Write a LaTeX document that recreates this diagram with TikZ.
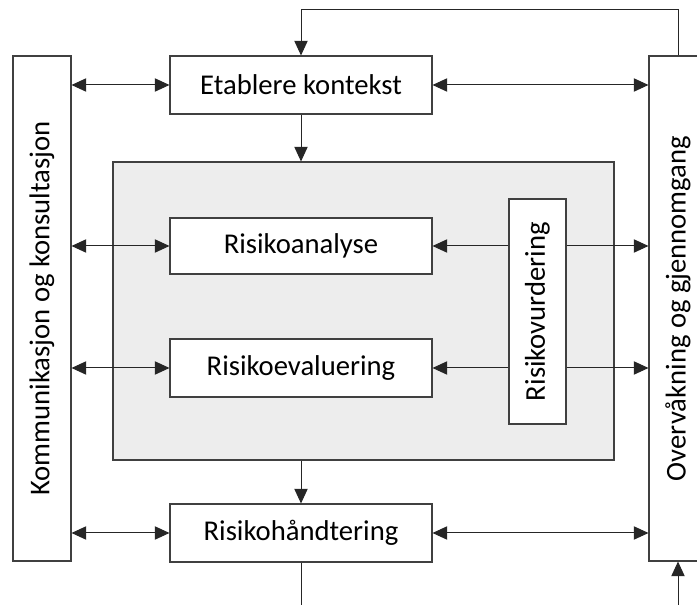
\documentclass[tikz,border=0pt]{standalone}
\usepackage{fontspec}
\setmainfont{Carlito}
\usepackage{graphicx}
\usetikzlibrary{arrows.meta}

\begin{document}
\begin{tikzpicture}[x=0.75pt,y=-0.75pt,
        box/.style={draw=black!75,line width=0.8pt,fill=white,inner sep=0pt,
            font=\fontsize{21.5}{25}\selectfont},
        arr/.style={draw=black!85,line width=0.75pt,-{Triangle[length=11pt,width=10pt]}},
        biarr/.style={arr,{Triangle[length=11pt,width=10pt]}-{Triangle[length=11pt,width=10pt]}}]
    \useasboundingbox (0,0) rectangle (697,605);
    \clip (0,0) rectangle (697,605);
    % side boxes
    \node[box,minimum width=43.5pt,minimum height=378.75pt] (kom) at (42,308.5)
        {\rotatebox{90}{Kommunikasjon og konsultasjon}};
    \node[box,minimum width=43.5pt,minimum height=378.75pt] (ove) at (678,308.5)
        {\rotatebox{90}{Overvåkning og gjennomgang}};
    % main chain
    \node[box,minimum width=196.5pt,minimum height=43.5pt] (kontekst) at (301,85) {Etablere kontekst};
    \node[box,fill=black!7,minimum width=375.75pt,minimum height=223.5pt] (vurd) at (363.5,311) {};
    \node[box,minimum width=196.5pt,minimum height=42pt] (analyse) at (301,246) {Risikoanalyse};
    \node[box,minimum width=196.5pt,minimum height=43.5pt] (evaluering) at (301,368) {Risikoevaluering};
    \node[box,minimum width=42.75pt,minimum height=168.75pt] (vurdering) at (537.5,311.5)
        {\rotatebox{90}{Risikovurdering}};
    \node[box,minimum width=196.5pt,minimum height=43.5pt] (handtering) at (301,533) {Risikohåndtering};
    \coordinate (ut) at (301,615);
    \coordinate (inn) at (678,615);
    % connectors
    \foreach \n in {kontekst,analyse,evaluering,handtering}
        \draw[biarr] (kom.east |- \n) -- (\n.west);
    \foreach \n in {kontekst,handtering}
        \draw[biarr] (\n.east) -- (ove.west |- \n);
    \foreach \n in {analyse,evaluering} {
        \draw[arr] (vurdering.west |- \n) -- (\n.east);
        \draw[arr] (vurdering.east |- \n) -- (ove.west |- \n);
    }
    \draw[arr] (kontekst.south) -- (kontekst.south |- vurd.north);
    \draw[arr] (handtering.north |- vurd.south) -- (handtering.north);
    \draw[arr] (ove.north) -- ++(0,-46) -| (kontekst.north);
    \draw[arr,-] (handtering.south) -- (ut);
    \draw[arr] (inn) -- (ove.south);
\end{tikzpicture}
\end{document}
